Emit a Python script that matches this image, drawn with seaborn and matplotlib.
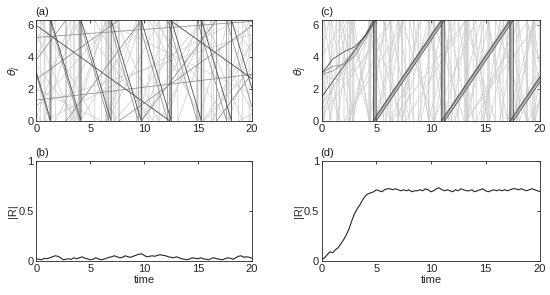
import numpy as np
import pandas as pd
import matplotlib
matplotlib.use("Agg")
import matplotlib.pyplot as plt
import seaborn as sns

# ---- panel (a): free-running oscillators, initial phase + frequency ----
theta0_a = [3.05, 5.95, 2.6, 5.2, 1.3, 3.8,
            0.9, 4.0, 0.2, 5.5, 1.8, 3.5, 6.0, 2.0, 4.7, 0.5, 1.0, 2.9]
omega_a = [-2.25, -0.48, 0.48, 0.05, 0.08, 0.9,
           0.75, 1.3, 1.9, -1.6, 1.1, -0.9, 0.35, -0.33, 2.2, -1.25, 0.22, -2.3]
shade_a = ["dark", "dark", "mid", "mid", "mid", "mid",
           "light", "light", "light", "light", "light", "light",
           "light", "light", "light", "light", "light", "mid"]

# ---- panel (c): synchronising cluster (unwrapped phase at anchor times) ----
anchor_t = [0, 1, 2, 3, 4, 5]
cluster_1 = [2.95, 3.85, 4.30, 4.60, 5.30, 6.62]
cluster_2 = [1.50, 2.45, 3.40, 4.35, 5.30, 6.30]
cluster_3 = [2.95, 2.60, 2.55, 3.40, 4.90, 6.42]
cluster_4 = [3.00, 3.40, 3.50, 4.00, 5.10, 6.50]
cluster_5 = [0.50, 2.00, 3.30, 4.20, 5.20, 6.36]
cluster_6 = [2.90, 3.10, 3.60, 4.40, 5.40, 6.56]
cluster_shade = ["dark", "dark", "light", "mid", "light", "mid"]
omega_sync = 1.0

# incoherent oscillators in (c)
theta0_c = [0.5, 3.0, 1.0, 4.2, 6.0, 3.6, 1.0, 0.3, 4.0, 2.5]
omega_c = [4.2, -3.5, -4.6, 3.0, 2.6, -2.2, 1.05, 0.93, 1.12, 1.6]

# ---- order parameter |R| sampled every 0.25 time units ----
time_R = np.arange(0, 20.01, 0.25)
R_b = [0.020, 0.015, 0.010, 0.025, 0.020, 0.030, 0.040, 0.050, 0.045, 0.030,
       0.010, 0.015, 0.020, 0.015, 0.030, 0.020, 0.030, 0.040, 0.025, 0.020,
       0.010, 0.015, 0.030, 0.020, 0.010, 0.015, 0.025, 0.035, 0.040, 0.050,
       0.040, 0.030, 0.035, 0.050, 0.040, 0.035, 0.045, 0.055, 0.065, 0.070,
       0.055, 0.040, 0.045, 0.050, 0.045, 0.055, 0.060, 0.055, 0.050, 0.040,
       0.035, 0.030, 0.040, 0.030, 0.020, 0.015, 0.010, 0.020, 0.030, 0.025,
       0.020, 0.030, 0.020, 0.015, 0.010, 0.025, 0.030, 0.020, 0.015, 0.010,
       0.020, 0.030, 0.025, 0.015, 0.030, 0.045, 0.050, 0.035, 0.040, 0.035,
       0.025]
R_d = [0.01, 0.03, 0.06, 0.09, 0.08, 0.11, 0.13, 0.17, 0.21, 0.26,
       0.32, 0.40, 0.47, 0.52, 0.56, 0.61, 0.65, 0.67, 0.68, 0.69,
       0.71, 0.70, 0.69, 0.71, 0.72, 0.72, 0.71, 0.72, 0.71, 0.70,
       0.71, 0.70, 0.71, 0.69, 0.70, 0.70, 0.71, 0.70, 0.72, 0.71,
       0.69, 0.70, 0.72, 0.73, 0.71, 0.70, 0.71, 0.70, 0.69, 0.71,
       0.70, 0.72, 0.71, 0.70, 0.70, 0.71, 0.69, 0.70, 0.71, 0.72,
       0.70, 0.69, 0.70, 0.71, 0.70, 0.71, 0.70, 0.71, 0.70, 0.71,
       0.72, 0.72, 0.71, 0.72, 0.71, 0.70, 0.71, 0.72, 0.71, 0.70,
       0.69]

SHADES = {"light": "0.8", "mid": "0.55", "dark": "0.3"}
WIDTHS = {"light": 0.5, "mid": 0.55, "dark": 0.6}
t = np.linspace(0, 20, 4001)


def phase_frame(unwrapped_list, shades):
    frames = []
    for i, (phase, shade) in enumerate(zip(unwrapped_list, shades)):
        frames.append(pd.DataFrame({"time": t,
                                    "theta": np.mod(phase, 2 * np.pi),
                                    "osc": i, "shade": shade}))
    return pd.concat(frames, ignore_index=True)


def draw_phases(ax, df):
    # light first so darker trajectories sit on top
    for shade in ["light", "mid", "dark"]:
        sub = df[df["shade"] == shade]
        if len(sub):
            sns.lineplot(data=sub, x="time", y="theta", units="osc",
                         estimator=None, sort=False, color=SHADES[shade],
                         lw=WIDTHS[shade], ax=ax, legend=False)
    ax.set_xlim(0, 20)
    ax.set_ylim(0, 2 * np.pi)
    ax.set_yticks([0, 2, 4, 6])
    ax.set_xticks([0, 5, 10, 15, 20])
    ax.set_xlabel("")
    ax.set_ylabel(r"$\theta_j$", fontsize=8, labelpad=3)


def draw_R(ax, values):
    sns.lineplot(x=time_R, y=values, color="0.15", lw=0.8, ax=ax)
    ax.set_xlim(0, 20)
    ax.set_ylim(0, 1)
    ax.set_yticks([0, 0.5, 1])
    ax.set_yticklabels(["0", "0.5", "1"])
    ax.set_xticks([0, 5, 10, 15, 20])
    ax.set_xlabel("time", fontsize=8, labelpad=1)
    ax.set_ylabel("|R|", fontsize=8, labelpad=0)


def matlab_axes(ax, label):
    for s in ax.spines.values():
        s.set_visible(True)
        s.set_color("0.15")
        s.set_linewidth(0.6)
    ax.tick_params(direction="in", length=2.5, width=0.6, top=True, right=True,
                   labelsize=8, colors="0.15", pad=2)
    ax.text(-0.005, 1.03, label, transform=ax.transAxes, fontsize=8,
            va="bottom", ha="left", color="0.1")


def main():
    sns.set_style("white")
    plt.rcParams["font.family"] = ["Liberation Sans", "DejaVu Sans"]
    plt.rcParams["mathtext.fontset"] = "dejavusans"

    fig = plt.figure(figsize=(5.5, 2.95), dpi=100)
    ax_a = fig.add_axes([0.066, 0.590, 0.392, 0.342])
    ax_b = fig.add_axes([0.066, 0.116, 0.392, 0.339])
    ax_c = fig.add_axes([0.585, 0.590, 0.397, 0.342])
    ax_d = fig.add_axes([0.585, 0.116, 0.397, 0.339])

    # (a) uncoupled
    unwrapped_a = [th + w * t for th, w in zip(theta0_a, omega_a)]
    draw_phases(ax_a, phase_frame(unwrapped_a, shade_a))

    # (c) cluster + incoherent oscillators
    clusters = [cluster_1, cluster_2, cluster_3, cluster_4, cluster_5, cluster_6]
    unwrapped_c = []
    for row in clusters:
        ph = np.where(t <= anchor_t[-1], np.interp(t, anchor_t, row),
                      row[-1] + omega_sync * (t - anchor_t[-1]))
        unwrapped_c.append(ph)
    shades_c = list(cluster_shade)
    for th, w in zip(theta0_c, omega_c):
        unwrapped_c.append(th + w * t)
        shades_c.append("light")
    draw_phases(ax_c, phase_frame(unwrapped_c, shades_c))

    draw_R(ax_b, R_b)
    draw_R(ax_d, R_d)

    for ax, lab in zip([ax_a, ax_b, ax_c, ax_d], ["(a)", "(b)", "(c)", "(d)"]):
        matlab_axes(ax, lab)

    fig.savefig("out.png", dpi=100)


if __name__ == "__main__":
    main()
